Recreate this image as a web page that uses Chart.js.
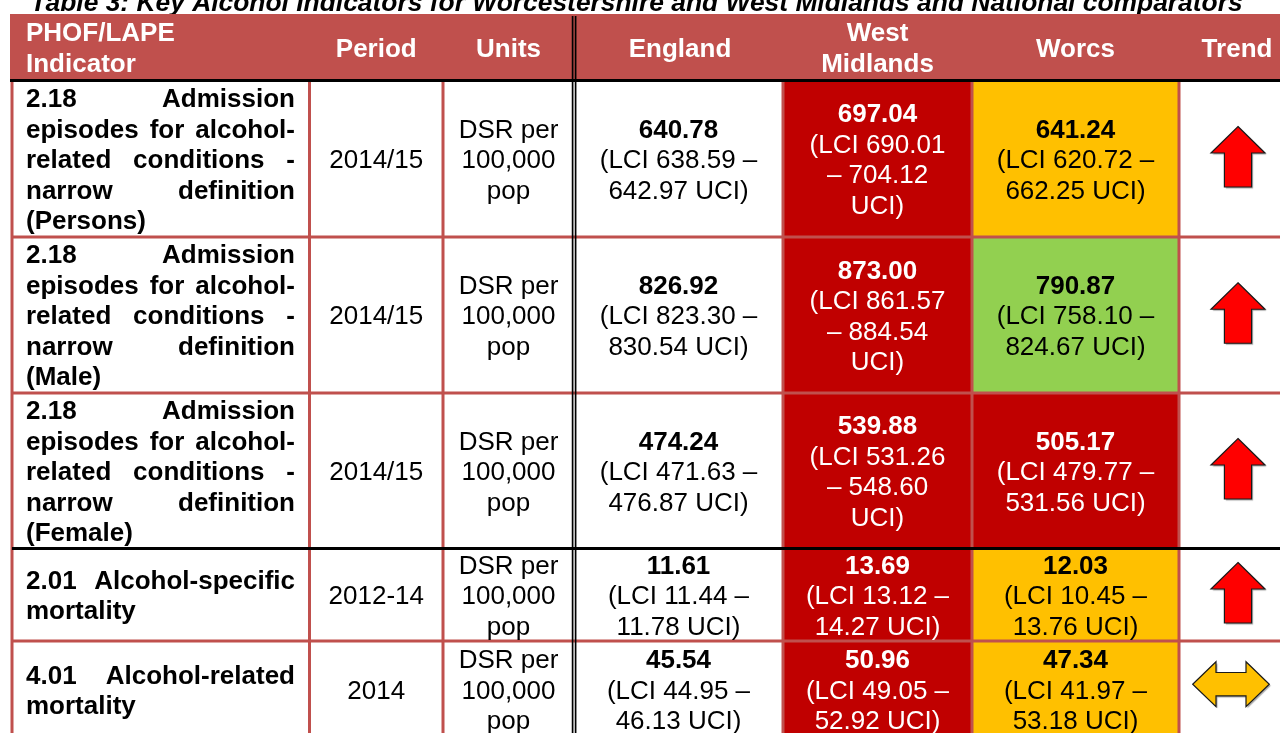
<!DOCTYPE html>
<html>
<head>
<meta charset="utf-8">
<script src="https://cdn.jsdelivr.net/npm/chart.js@4.4.1/dist/chart.umd.min.js"></script>
<style>
html,body{margin:0;padding:0;background:#ffffff;overflow:hidden}
#wrap{width:1280px;height:733px;position:relative}
</style>
</head>
<body>
<div id="wrap"><canvas id="c"></canvas></div>
<script>
// ---------- DATA ----------
const tableTitle = 'Table 3: Key Alcohol Indicators for Worcestershire and West Midlands and National comparators';
const headers = [['PHOF/LAPE', 'Indicator'], ['Period'], ['Units'], ['England'], ['West', 'Midlands'], ['Worcs'], ['Trend']];
const indicators = [
  '2.18 Admission episodes for alcohol-related conditions - narrow definition (Persons)',
  '2.18 Admission episodes for alcohol-related conditions - narrow definition (Male)',
  '2.18 Admission episodes for alcohol-related conditions - narrow definition (Female)',
  '2.01 Alcohol-specific mortality',
  '4.01 Alcohol-related mortality'
];
const periods = ['2014/15', '2014/15', '2014/15', '2012-14', '2014'];
const units = ['DSR per 100,000 pop', 'DSR per 100,000 pop', 'DSR per 100,000 pop', 'DSR per 100,000 pop', 'DSR per 100,000 pop'];
const englandValues = [640.78, 826.92, 474.24, 11.61, 45.54];
const englandLCI = [638.59, 823.30, 471.63, 11.44, 44.95];
const englandUCI = [642.97, 830.54, 476.87, 11.78, 46.13];
const wmValues = [697.04, 873.00, 539.88, 13.69, 50.96];
const wmLCI = [690.01, 861.57, 531.26, 13.12, 49.05];
const wmUCI = [704.12, 884.54, 548.60, 14.27, 52.92];
const worcsValues = [641.24, 790.87, 505.17, 12.03, 47.34];
const worcsLCI = [620.72, 758.10, 479.77, 10.45, 41.97];
const worcsUCI = [662.25, 824.67, 531.56, 13.76, 53.18];
const wmRating = ['worse', 'worse', 'worse', 'worse', 'worse'];
const worcsRating = ['similar', 'better', 'worse', 'similar', 'similar'];
const trends = ['up', 'up', 'up', 'up', 'level'];

// ---------- LAYOUT / STYLE ----------
const colEdges = [12, 309.5, 443, 574, 783, 972, 1179, 1295];
const headerTop = 14, headerBottom = 80.5;
const rowEdges = [80.5, 237, 393, 548.5, 641, 738];
const wrapWidths = [269, 120, 112, 185, 150, 185, 100];
const FS = 26, LH = 30.5;
const FONT = '"Liberation Sans", Arial, Helvetica, sans-serif';
const RED_HEAD = '#C0504D';
const ratingFill = { worse: '#C00000', similar: '#FFC000', better: '#92D050', none: '#FFFFFF' };
const ratingText = { worse: '#FFFFFF', similar: '#000000', better: '#000000', none: '#000000' };

function tokenize(s) {
  const toks = [];
  s.split(' ').forEach((w, i) => {
    w.split(/(?<=-)(?=.)/).forEach((p, j) => toks.push({ t: p, sp: i > 0 && j === 0 }));
  });
  return toks;
}
function wrapTokens(ctx, s, maxW) {
  const toks = tokenize(s);
  const spW = ctx.measureText(' ').width;
  const lines = [];
  let cur = [], w = 0;
  toks.forEach(tk => {
    const tw = ctx.measureText(tk.t).width;
    const add = (cur.length && tk.sp ? spW : 0) + tw;
    if (cur.length && w + add > maxW) { lines.push(cur); cur = [{ t: tk.t, sp: false, w: tw }]; w = tw; }
    else { cur.push({ t: tk.t, sp: cur.length ? tk.sp : false, w: tw }); w += add; }
  });
  if (cur.length) lines.push(cur);
  return lines;
}
function lineText(line) { return line.map(t => (t.sp ? ' ' : '') + t.t).join(''); }

const tablePlugin = {
  id: 'kpiTable',
  afterDraw(chart) {
    const { ctx } = chart;
    const sx = chart.scales.x, sy = chart.scales.y;
    const X = v => sx.getPixelForValue(v), Y = v => sy.getPixelForValue(v);
    const rect = (x0, y0, x1, y1, c) => { ctx.fillStyle = c; ctx.fillRect(X(x0), Y(y0), X(x1) - X(x0), Y(y1) - Y(y0)); };
    const hline = (x0, x1, yv, w, c) => { ctx.strokeStyle = c; ctx.lineWidth = w; ctx.beginPath(); ctx.moveTo(X(x0), Y(yv)); ctx.lineTo(X(x1), Y(yv)); ctx.stroke(); };
    const vline = (xv, y0, y1, w, c) => { ctx.strokeStyle = c; ctx.lineWidth = w; ctx.beginPath(); ctx.moveTo(X(xv), Y(y0)); ctx.lineTo(X(xv), Y(y1)); ctx.stroke(); };
    ctx.save();
    // title
    ctx.font = 'italic bold 26.4px ' + FONT;
    ctx.fillStyle = '#000';
    ctx.textAlign = 'center';
    ctx.textBaseline = 'alphabetic';
    ctx.fillText(tableTitle, X(636.5), Y(11));

    // header
    rect(10, headerTop, 1280, headerBottom, RED_HEAD);
    // body cells
    const nRows = indicators.length;
    for (let r = 0; r < nRows; r++) {
      const fills = ['none', 'none', 'none', 'none', wmRating[r], worcsRating[r], 'none'];
      for (let c = 0; c < 7; c++) {
        rect(colEdges[c], rowEdges[r], colEdges[c + 1], rowEdges[r + 1], ratingFill[fills[c]]);
      }
    }
    // red grid
    const bottom = rowEdges[rowEdges.length - 1];
    [0, 1, 2, 4, 5, 6].forEach(i => vline(colEdges[i], headerBottom, bottom, 3, RED_HEAD));
    for (let r = 1; r < rowEdges.length - 1; r++) {
      if (r === 3) continue;
      hline(colEdges[0], 1280, rowEdges[r], 3, RED_HEAD);
    }
    // black rules
    hline(10, 1280, headerBottom, 3, '#000');
    hline(colEdges[0], 1280, rowEdges[3], 3, '#000');
    // double line
    vline(572.6, 16, bottom, 1.7, '#000');
    vline(575.6, 16, bottom, 1.7, '#000');

    // header text
    ctx.fillStyle = '#FFFFFF';
    ctx.font = 'bold ' + FS + 'px ' + FONT;
    const hcy = (headerTop + headerBottom) / 2;
    headers.forEach((lines, c) => {
      lines.forEach((ln, i) => {
        const by = hcy - (lines.length - 1) / 2 * LH + i * LH + FS * 0.358;
        if (c === 0) { ctx.textAlign = 'left'; ctx.fillText(ln, X(26), Y(by)); }
        else { ctx.textAlign = 'center'; ctx.fillText(ln, X((colEdges[c] + colEdges[c + 1]) / 2 + (c === 3 ? 1.5 : 0)), Y(by)); }
      });
    });

    // body text
    const drawBlock = (blocks, c, r, color) => {
      const cx = (colEdges[c] + colEdges[c + 1]) / 2;
      const cy = (rowEdges[r] + rowEdges[r + 1]) / 2;
      let all = [];
      blocks.forEach(b => {
        ctx.font = (b.bold ? 'bold ' : '') + FS + 'px ' + FONT;
        wrapTokens(ctx, b.text, wrapWidths[c]).forEach(l => all.push({ txt: lineText(l), bold: b.bold }));
      });
      ctx.fillStyle = color;
      ctx.textAlign = 'center';
      all.forEach((l, i) => {
        ctx.font = (l.bold ? 'bold ' : '') + FS + 'px ' + FONT;
        const by = cy - (all.length - 1) / 2 * LH + i * LH + FS * 0.358;
        ctx.fillText(l.txt, X(cx), Y(by));
      });
    };
    for (let r = 0; r < nRows; r++) {
      // indicator - justified bold
      ctx.font = 'bold ' + FS + 'px ' + FONT;
      ctx.fillStyle = '#000';
      ctx.textAlign = 'left';
      const lines = wrapTokens(ctx, indicators[r], wrapWidths[0]);
      const cy = (rowEdges[r] + rowEdges[r + 1]) / 2;
      const spW = ctx.measureText(' ').width;
      const x0 = 26, x1 = 295;
      lines.forEach((ln, i) => {
        const by = cy - (lines.length - 1) / 2 * LH + i * LH + FS * 0.358;
        const nat = ln.reduce((s, t) => s + t.w + (t.sp ? spW : 0), 0);
        const gaps = ln.filter(t => t.sp).length;
        const extra = (i < lines.length - 1 && gaps > 0) ? (x1 - x0 - nat) / gaps : 0;
        let xp = x0;
        ln.forEach(t => {
          if (t.sp) xp += spW + extra;
          ctx.fillText(t.t, X(xp), Y(by));
          xp += t.w;
        });
      });
      drawBlock([{ text: periods[r], bold: false }], 1, r, '#000');
      drawBlock([{ text: units[r], bold: false }], 2, r, '#000');
      const ci = (v, lo, hi) => [{ text: v.toFixed(2), bold: true }, { text: '(LCI ' + lo.toFixed(2) + ' \u2013 ' + hi.toFixed(2) + ' UCI)', bold: false }];
      drawBlock(ci(englandValues[r], englandLCI[r], englandUCI[r]), 3, r, '#000');
      drawBlock(ci(wmValues[r], wmLCI[r], wmUCI[r]), 4, r, ratingText[wmRating[r]]);
      drawBlock(ci(worcsValues[r], worcsLCI[r], worcsUCI[r]), 5, r, ratingText[worcsRating[r]]);

      // trend arrows
      ctx.save();
      ctx.lineWidth = 1.2;
      ctx.strokeStyle = '#1a1a1a';
      ctx.shadowColor = 'rgba(0,0,0,0.35)';
      ctx.shadowOffsetX = 1.5;
      ctx.shadowOffsetY = 1.5;
      ctx.shadowBlur = 1;
      ctx.beginPath();
      if (trends[r] === 'up') {
        const tcx = 1238, tcy = cy - 2;
        const hw = 27, hh = 26.5, sw = 13.6, H = 60.5;
        const top = tcy - H / 2, bot = tcy + H / 2;
        ctx.moveTo(X(tcx), Y(top));
        ctx.lineTo(X(tcx + hw), Y(top + hh));
        ctx.lineTo(X(tcx + sw), Y(top + hh));
        ctx.lineTo(X(tcx + sw), Y(bot));
        ctx.lineTo(X(tcx - sw), Y(bot));
        ctx.lineTo(X(tcx - sw), Y(top + hh));
        ctx.lineTo(X(tcx - hw), Y(top + hh));
        ctx.closePath();
        ctx.fillStyle = '#FF0000';
      } else {
        const tcx = 1231, tcy = cy - 5.3;
        const W = 76.6, hh = 23.3, H = 45, st = 11.7;
        const lx = tcx - W / 2, rx = tcx + W / 2;
        ctx.moveTo(X(lx), Y(tcy));
        ctx.lineTo(X(lx + hh), Y(tcy - H / 2));
        ctx.lineTo(X(lx + hh), Y(tcy - st));
        ctx.lineTo(X(rx - hh), Y(tcy - st));
        ctx.lineTo(X(rx - hh), Y(tcy - H / 2));
        ctx.lineTo(X(rx), Y(tcy));
        ctx.lineTo(X(rx - hh), Y(tcy + H / 2));
        ctx.lineTo(X(rx - hh), Y(tcy + st));
        ctx.lineTo(X(lx + hh), Y(tcy + st));
        ctx.lineTo(X(lx + hh), Y(tcy + H / 2));
        ctx.closePath();
        ctx.fillStyle = '#FFC000';
      }
      ctx.fill();
      ctx.shadowColor = 'rgba(0,0,0,0)';
      ctx.stroke();
      ctx.restore();
    }
    ctx.restore();
  }
};

new Chart(document.getElementById('c'), {
  type: 'scatter',
  data: { datasets: [{ label: 'table', data: [], pointRadius: 0 }] },
  options: {
    responsive: true,
    maintainAspectRatio: false,
    animation: false,
    events: [],
    layout: { padding: 0 },
    plugins: { legend: { display: false }, tooltip: { enabled: false }, title: { display: false } },
    scales: {
      x: { type: 'linear', min: 0, max: 1280, display: false },
      y: { type: 'linear', min: 0, max: 733, reverse: true, display: false }
    }
  },
  plugins: [tablePlugin]
});
</script>
</body>
</html>
